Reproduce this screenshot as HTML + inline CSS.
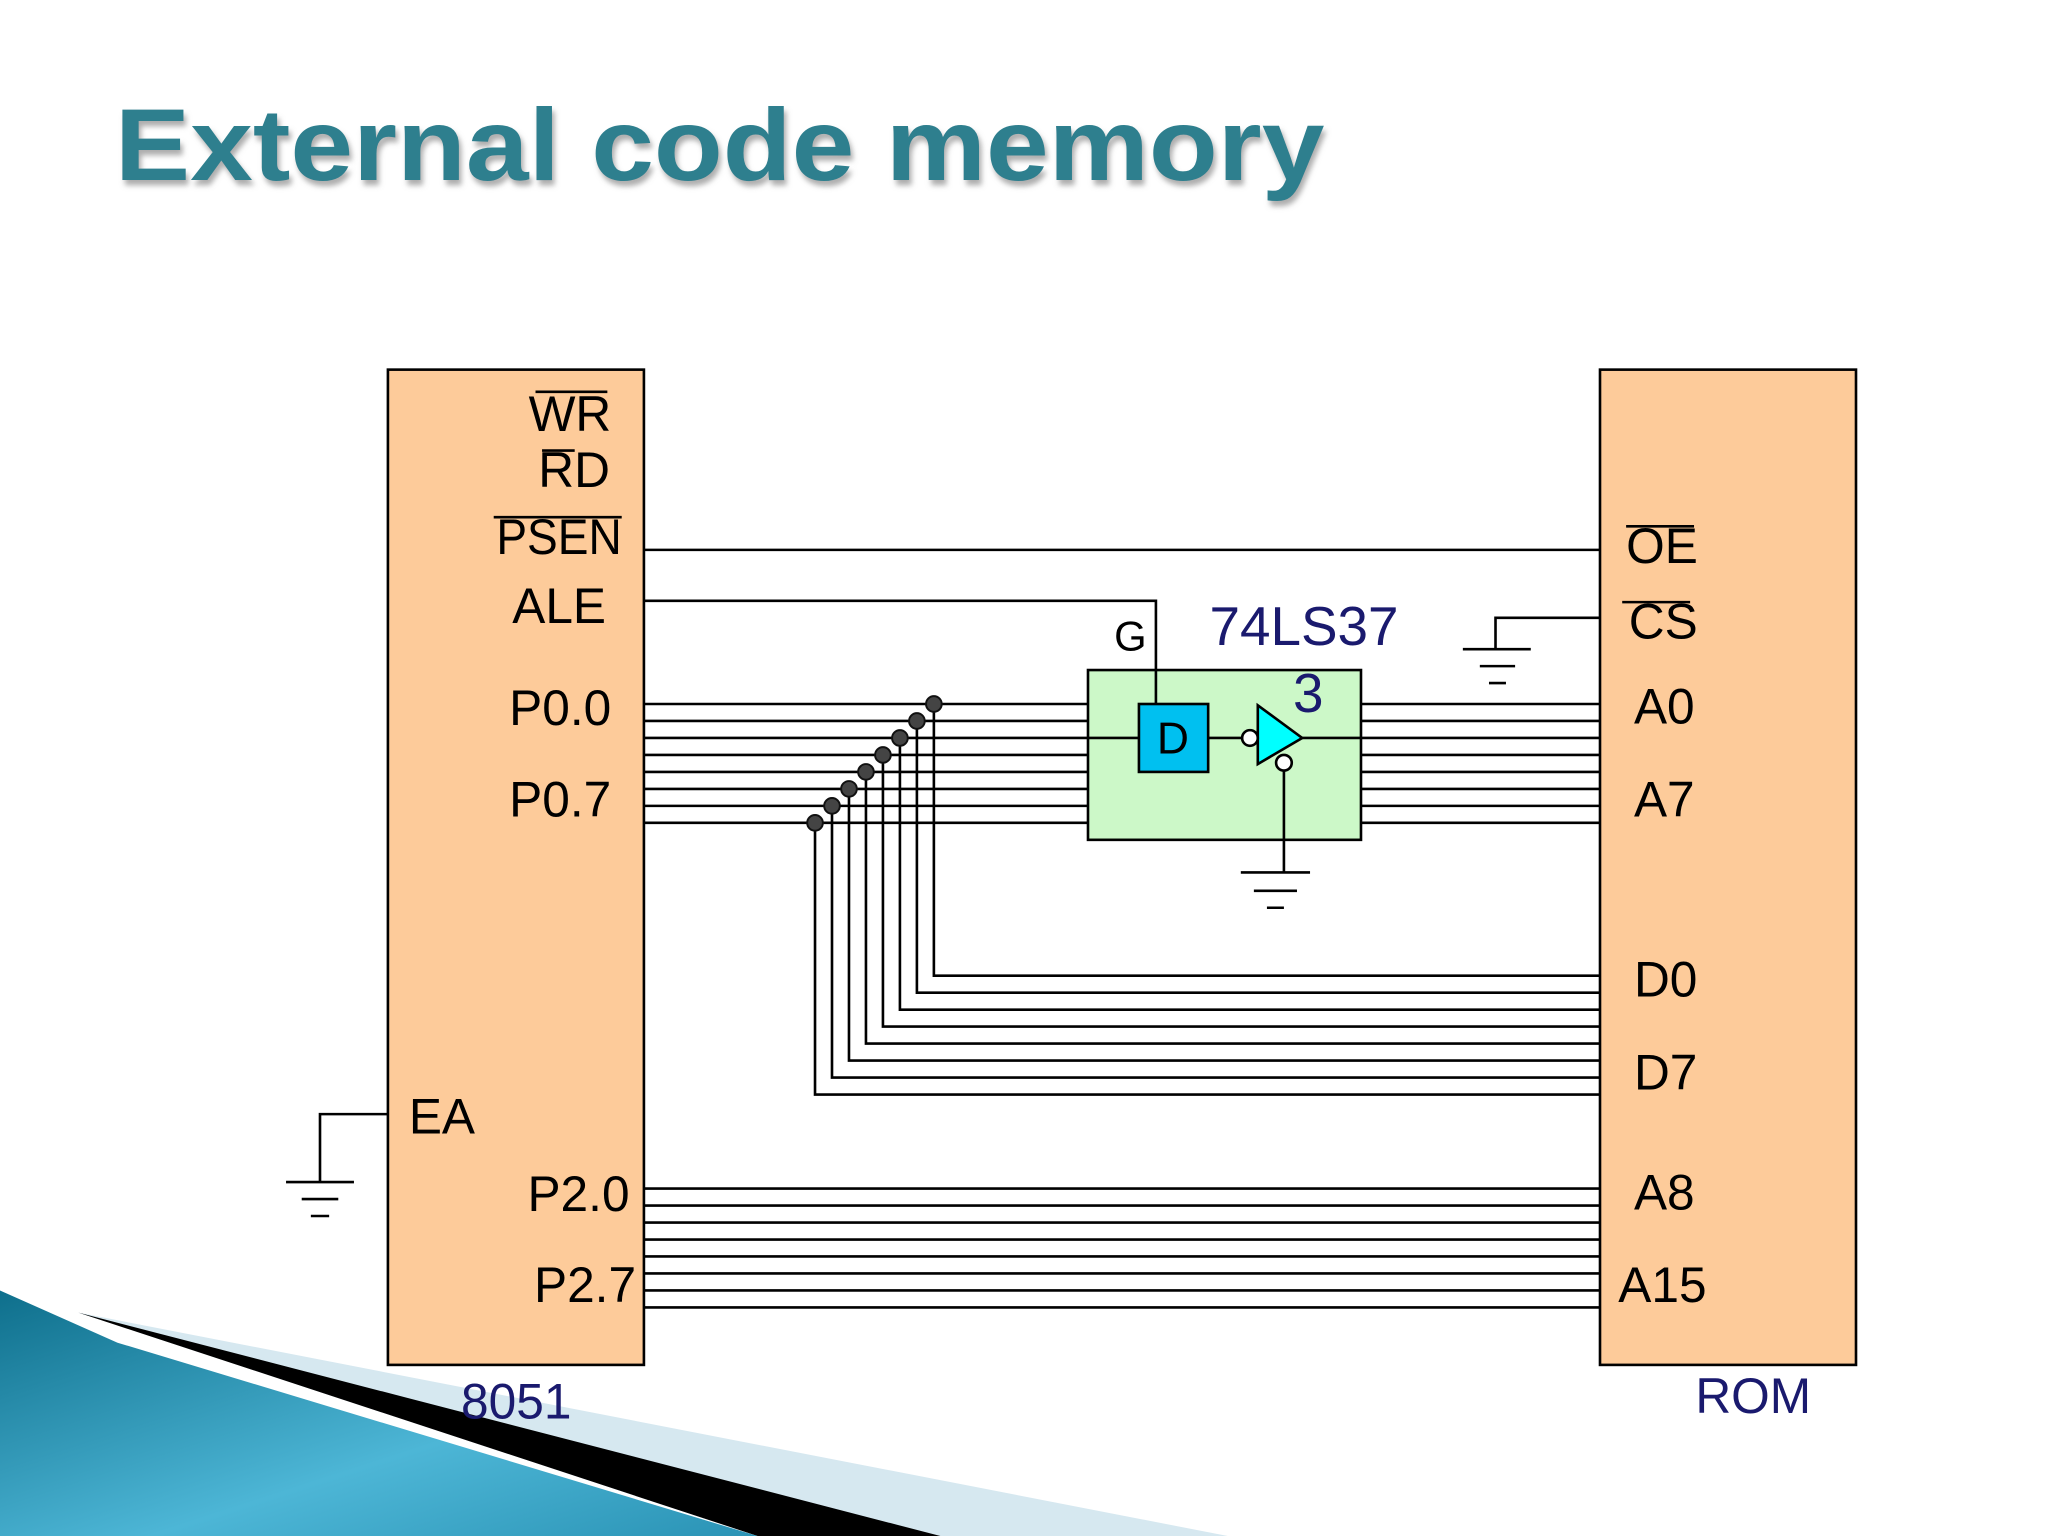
<!DOCTYPE html>
<html><head><meta charset="utf-8"><style>
html,body{margin:0;padding:0;background:#fff;}
svg{display:block;}
text{font-family:"Liberation Sans",sans-serif;}
</style></head><body>
<svg width="2048" height="1536" viewBox="0 0 1568 1176" xmlns="http://www.w3.org/2000/svg">
<defs>
<linearGradient id="bl" x1="0" y1="0" x2="1" y2="1">
<stop offset="0" stop-color="#0e6f8c"/><stop offset="0.6" stop-color="#4db6d6"/><stop offset="1" stop-color="#2a93b5"/>
</linearGradient>
<filter id="sh"><feDropShadow dx="2" dy="4" stdDeviation="2" flood-color="#777" flood-opacity="0.6"/></filter>
</defs>
<rect width="1568" height="1176" fill="#fff"/>
<!-- bottom decoration -->
<polygon points="60,1005 940,1176 580,1176" fill="#d6e8f0"/>
<polygon points="60,1005 720,1176 580,1176" fill="#000"/>
<polygon points="0,988 90,1028 580,1176 0,1176" fill="url(#bl)"/>
<!-- title -->
<text x="88" y="138" font-size="78" font-weight="bold" fill="#2f7f8e" filter="url(#sh)" textLength="926" lengthAdjust="spacingAndGlyphs">External code memory</text>
<!-- boxes -->
<rect x="297" y="283" width="196" height="762" fill="#fdcb9a" stroke="#000" stroke-width="2"/>
<rect x="1225" y="283" width="196" height="762" fill="#fdcb9a" stroke="#000" stroke-width="2"/>
<rect x="833" y="513" width="209" height="130" fill="#ccf8c8" stroke="#000" stroke-width="2"/>
<g stroke="#000" stroke-width="2" fill="none">
<line x1="493" y1="421" x2="1225" y2="421"/>
<polyline points="493,460 885,460 885,539"/>
<!-- P0 lines -->
<path d="M493 539H833M493 552H833M493 565H833M493 578H833M493 591H833M493 604H833M493 617H833M493 630H833"/>
<path d="M1042 539H1225M1042 552H1225M1042 565H1225M1042 578H1225M1042 591H1225M1042 604H1225M1042 617H1225M1042 630H1225"/>
<line x1="833" y1="565" x2="872" y2="565"/>
<line x1="925" y1="565" x2="951" y2="565"/>
<line x1="997" y1="565" x2="1042" y2="565"/>
<line x1="983" y1="590" x2="983" y2="668"/>
<path d="M950 668H1003M960 682H993M970 695H983"/>
<!-- D bus -->
<polyline points="715,539 715,747 1225,747"/>
<polyline points="702,552 702,760 1225,760"/>
<polyline points="689,565 689,773 1225,773"/>
<polyline points="676,578 676,786 1225,786"/>
<polyline points="663,591 663,799 1225,799"/>
<polyline points="650,604 650,812 1225,812"/>
<polyline points="637,617 637,825 1225,825"/>
<polyline points="624,630 624,838 1225,838"/>
<!-- P2 -->
<path d="M493 910H1225M493 923H1225M493 936H1225M493 949H1225M493 962H1225M493 975H1225M493 988H1225M493 1001H1225"/>
<!-- CS ground -->
<polyline points="1225,473 1145,473 1145,497"/>
<path d="M1120 497H1172M1133 510H1160M1140 523H1153"/>
<!-- EA ground -->
<polyline points="297,853 245,853 245,905"/>
<path d="M219 905H271M231 918H259M238 931H252"/>
<!-- overlines -->
<path d="M410 300H465M415 345H440M378 396H476M1245 403H1297M1242 461H1294"/>
</g>
<g fill="#444" stroke="#111" stroke-width="1.5">
<circle cx="715" cy="539" r="6"/><circle cx="702" cy="552" r="6"/><circle cx="689" cy="565" r="6"/><circle cx="676" cy="578" r="6"/>
<circle cx="663" cy="591" r="6"/><circle cx="650" cy="604" r="6"/><circle cx="637" cy="617" r="6"/><circle cx="624" cy="630" r="6"/>
</g>
<rect x="872" y="539" width="53" height="52" fill="#00c0f0" stroke="#000" stroke-width="2"/>
<text x="898" y="577" font-size="34" text-anchor="middle" fill="#000">D</text>
<polygon points="963,540 963,585 997,565" fill="#00ffff" stroke="#000" stroke-width="2"/>
<circle cx="957" cy="565" r="6" fill="#fff" stroke="#000" stroke-width="2"/>
<circle cx="983" cy="584" r="6" fill="#fff" stroke="#000" stroke-width="2"/>
<g font-size="38" fill="#000">
<text x="468" y="330" text-anchor="end">WR</text>
<text x="467" y="373" text-anchor="end">RD</text>
<text x="476" y="424" text-anchor="end" textLength="96" lengthAdjust="spacingAndGlyphs">PSEN</text>
<text x="464" y="477" text-anchor="end">ALE</text>
<text x="468" y="555" text-anchor="end">P0.0</text>
<text x="468" y="625" text-anchor="end">P0.7</text>
<text x="313" y="868">EA</text>
<text x="482" y="927" text-anchor="end">P2.0</text>
<text x="487" y="997" text-anchor="end">P2.7</text>
<text x="1245" y="431">OE</text>
<text x="1247" y="489">CS</text>
<text x="1251" y="554">A0</text>
<text x="1251" y="625">A7</text>
<text x="1251" y="763">D0</text>
<text x="1251" y="834">D7</text>
<text x="1251" y="926">A8</text>
<text x="1239" y="997">A15</text>
<text x="853" y="498" font-size="32">G</text>
</g>
<g fill="#1a1a6e" font-size="42">
<text x="926" y="494">74LS37</text>
<text x="990" y="545">3</text>
<text x="353" y="1086" font-size="38">8051</text>
<text x="1298" y="1082" font-size="38">ROM</text>
</g>
</svg>
</body></html>
